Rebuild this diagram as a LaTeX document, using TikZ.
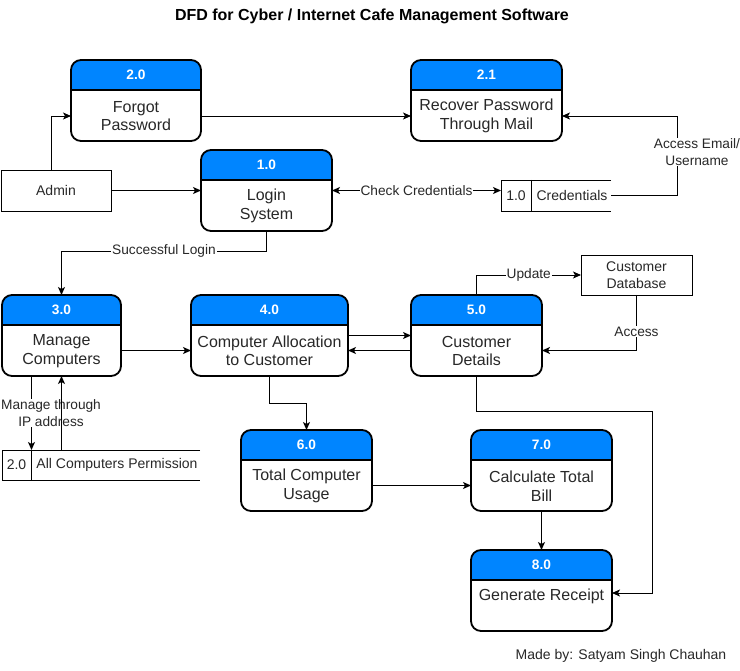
\documentclass[tikz,border=0pt]{standalone}
\usepackage{fontspec}
\setmainfont{Liberation Sans}
\usetikzlibrary{arrows.meta,calc}
\definecolor{hdrblue}{RGB}{0,133,255}
\definecolor{txt}{RGB}{40,40,40}
\tikzset{
  pbox/.style={draw=none, rectangle, inner sep=0pt, outer sep=0pt},
  hdrtxt/.style={text=white, font=\bfseries\fontsize{13.7}{15}\selectfont, inner sep=0pt},
  bodytxt/.style={text=txt, align=center, font=\fontsize{16}{18.5}\selectfont, inner sep=0pt},
  ent/.style={draw, line width=0.9pt, rectangle, inner sep=0pt, outer sep=0pt, align=center, text=txt, font=\fontsize{14}{16.5}\selectfont},
  dsbox/.style={draw=none, rectangle, inner sep=0pt, outer sep=0pt},
  dstxt/.style={text=txt, font=\fontsize{14}{16}\selectfont, inner sep=0pt},
  flow/.style={line width=0.9pt, -{Stealth[length=8pt,width=7pt,inset=2pt]}},
  bflow/.style={line width=0.9pt, {Stealth[length=8pt,width=7pt,inset=2pt]}-{Stealth[length=8pt,width=7pt,inset=2pt]}},
  plain/.style={line width=0.9pt},
  lbl/.style={fill=white, text=txt, align=center, inner sep=1pt, font=\fontsize{13.7}{16.5}\selectfont},
}
\newcommand\dfdproc[8]{%
  \node[pbox, minimum width=#4pt, minimum height=#5pt, anchor=north west] (#1) at (#2,#3) {};
  \begin{scope}
    \clip[rounded corners=10pt] (#1.north west) rectangle (#1.south east);
    \fill[hdrblue] (#1.north west) rectangle ([yshift=-30pt]#1.north east);
  \end{scope}
  \draw[line width=1.2pt] ([yshift=-30pt]#1.north west) -- ([yshift=-30pt]#1.north east);
  \draw[line width=1.8pt, rounded corners=10pt] (#1.north west) rectangle (#1.south east);
  \node[hdrtxt] (#1h) at ([yshift=-15pt]#1.north) {#6};
  \node[bodytxt] (#1t) at ([yshift=-#8pt]#1.north) {#7};
}
\begin{document}
\begin{tikzpicture}[x=1pt,y=-1pt]
\useasboundingbox (0,0) rectangle (740,671);
\fill[white] (0,0) rectangle (740,671);

% title
\node[text=black, font=\bfseries\fontsize{16}{18}\selectfont] (title) at (372,16) {DFD for Cyber / Internet Cafe Management Software};

% processes
\dfdproc{p20}{71}{60}{130}{81}{2.0}{Forgot\\Password}{56}
\dfdproc{p21}{411}{60}{151}{81}{2.1}{Recover Password\\Through Mail}{56}
\dfdproc{p10}{201}{150}{131}{81}{1.0}{Login\\System}{56}
\dfdproc{p30}{2}{295}{119}{81}{3.0}{Manage\\Computers}{56}
\dfdproc{p40}{191}{295}{157}{81}{4.0}{Computer Allocation\\to Customer}{56}
\dfdproc{p50}{411}{295}{131}{81}{5.0}{Customer\\Details}{56}
\dfdproc{p60}{241}{430}{131}{81}{6.0}{Total Computer\\Usage}{56}
\dfdproc{p70}{471}{430}{141}{81}{7.0}{Calculate Total\\Bill}{56}
\dfdproc{p80}{471}{550}{141}{81}{8.0}{Generate Receipt}{46}

% external entities
\node[ent, minimum width=110pt, minimum height=41pt, anchor=north west] (admin) at (1,170) {Admin};
\node[ent, minimum width=111pt, minimum height=40pt, anchor=north west] (cdb) at (581,255) {Customer\\Database};

% data stores
\node[dsbox, minimum width=110pt, minimum height=31pt, anchor=north west] (ds1) at (501,180) {};
\draw[plain] (ds1.north east) -- (ds1.north west) -- (ds1.south west) -- (ds1.south east);
\draw[plain] ([xshift=30pt]ds1.north west) -- ([xshift=30pt]ds1.south west);
\node[dstxt] (ds1n) at ([xshift=15pt]ds1.west) {1.0};
\node[dstxt] (ds1t) at ([xshift=71pt]ds1.west) {Credentials};

\node[dsbox, minimum width=198pt, minimum height=30pt, anchor=north west] (ds2) at (2,450) {};
\draw[plain] (ds2.north east) -- (ds2.north west) -- (ds2.south west) -- (ds2.south east);
\draw[plain] ([xshift=29.5pt]ds2.north west) -- ([xshift=29.5pt]ds2.south west);
\node[dstxt] (ds2n) at ([xshift=14.5pt]ds2.west) {2.0};
\node[dstxt] (ds2t) at ([xshift=115pt]ds2.west) {All Computers Permission};

% connectors
\draw[flow] ([xshift=-5pt]admin.north) |- ([yshift=-15.5pt]p20.west);
\draw[flow] (admin.east) -- (admin.east -| p10.west);
\draw[flow] ([yshift=-15.5pt]p20.east) -- ([yshift=-15.5pt]p21.west);
\draw[flow] (ds1.east) -- ++(66,0) |- ([yshift=-15.5pt]p21.east);
\node[lbl] (lae) at (697,152) {Access Email/\\Username};
\draw[bflow] (p10.east) -- node[lbl] (lcc) {Check Credentials} (p10.east -| ds1.west);
\draw[flow] (p10.south) -- ++(0,20) -| node[lbl, pos=0.25] (lsl) {Successful Login} (p30.north);
\draw[flow] ([yshift=-15pt]p30.east) -- ([yshift=-15pt]p30.east -| p40.west);
\draw[flow] (p40.east) -- (p40.east -| p50.west);
\draw[flow] ([yshift=-15pt]p50.west) -- ([yshift=-15pt]p50.west -| p40.east);
\draw[flow] (p50.north) |- node[lbl, pos=0.75] (lup) {Update} (cdb.west);
\draw[flow] (cdb.south) |- node[lbl, pos=0.33] (lac) {Access} ([yshift=-15pt]p50.east);
\coordinate (c1) at (652,411);
\draw[flow] (p50.south) |- (c1) |- ([yshift=-2.5pt]p80.east);
\draw[flow] (p40.south) -- ++(0,27) -| (p60.north);
\draw[flow] ([xshift=-30pt]p30.south) -- ([xshift=-30pt]p30.south |- ds2.north);
\node[lbl] (lip) at (51,413) {Manage through\\IP address};
\draw[flow] (p30.south |- ds2.north) -- (p30.south);
\draw[flow] ([yshift=-15pt]p60.east) -- ([yshift=-15pt]p60.east -| p70.west);
\draw[flow] (p70.south) -- (p80.north);

% credit
\node[text=txt, font=\fontsize{14}{16}\selectfont] (credit) at (621,656) {Made by: Satyam Singh Chauhan};
\end{tikzpicture}
\end{document}
